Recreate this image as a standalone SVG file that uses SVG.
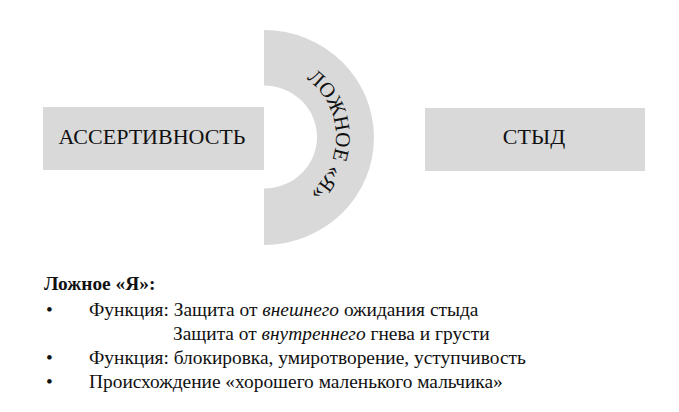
<svg xmlns="http://www.w3.org/2000/svg" width="679" height="412" viewBox="0 0 679 412">
<style>
.box{fill:#d9d9d9}
.lbl{font-family:"Liberation Serif","Times New Roman",serif;font-size:22px;fill:#111}
.arc{font-family:"Liberation Serif","Times New Roman",serif;font-size:21px;fill:#111}
.txt{font-family:"Liberation Serif","Times New Roman",serif;font-size:19.4px;fill:#111}
</style>
<defs>
<path id="arcpath" d="M 264,65 A 72 72 0 1 1 264,209"/>
</defs>
<rect width="679" height="412" fill="#ffffff"/>
<g id="connectors"></g>
<g id="node-assertiveness">
<rect class="box" x="43" y="107" width="221" height="63"/>
<text class="lbl" x="152" y="144" text-anchor="middle">АССЕРТИВНОСТЬ</text>
</g>
<g id="node-false-self">
<path class="box" d="M 264,30 A 110 107.5 0 0 1 264,245 L 264,188.5 A 53 51.5 0 0 0 264,85.5 Z"/>
<text class="arc"><textPath href="#arcpath" startOffset="49%" text-anchor="middle">ЛОЖНОЕ «Я»</textPath></text>
</g>
<g id="node-shame">
<rect class="box" x="425" y="108" width="220" height="63"/>
<text class="lbl" x="534" y="144" text-anchor="middle">СТЫД</text>
</g>
<g id="notes">
<text class="txt" x="44" y="290" font-weight="bold">Ложное «Я»:</text>
<text class="txt" x="46" y="316">•</text>
<text class="txt" x="89" y="316">Функция: Защита от <tspan font-style="italic">внешнего</tspan> ожидания стыда</text>
<text class="txt" x="173" y="340">Защита от <tspan font-style="italic">внутреннего</tspan> гнева и грусти</text>
<text class="txt" x="46" y="364">•</text>
<text class="txt" x="89" y="364">Функция: блокировка, умиротворение, уступчивость</text>
<text class="txt" x="46" y="388">•</text>
<text class="txt" x="89" y="388">Происхождение «хорошего маленького мальчика»</text>
</g>
</svg>
